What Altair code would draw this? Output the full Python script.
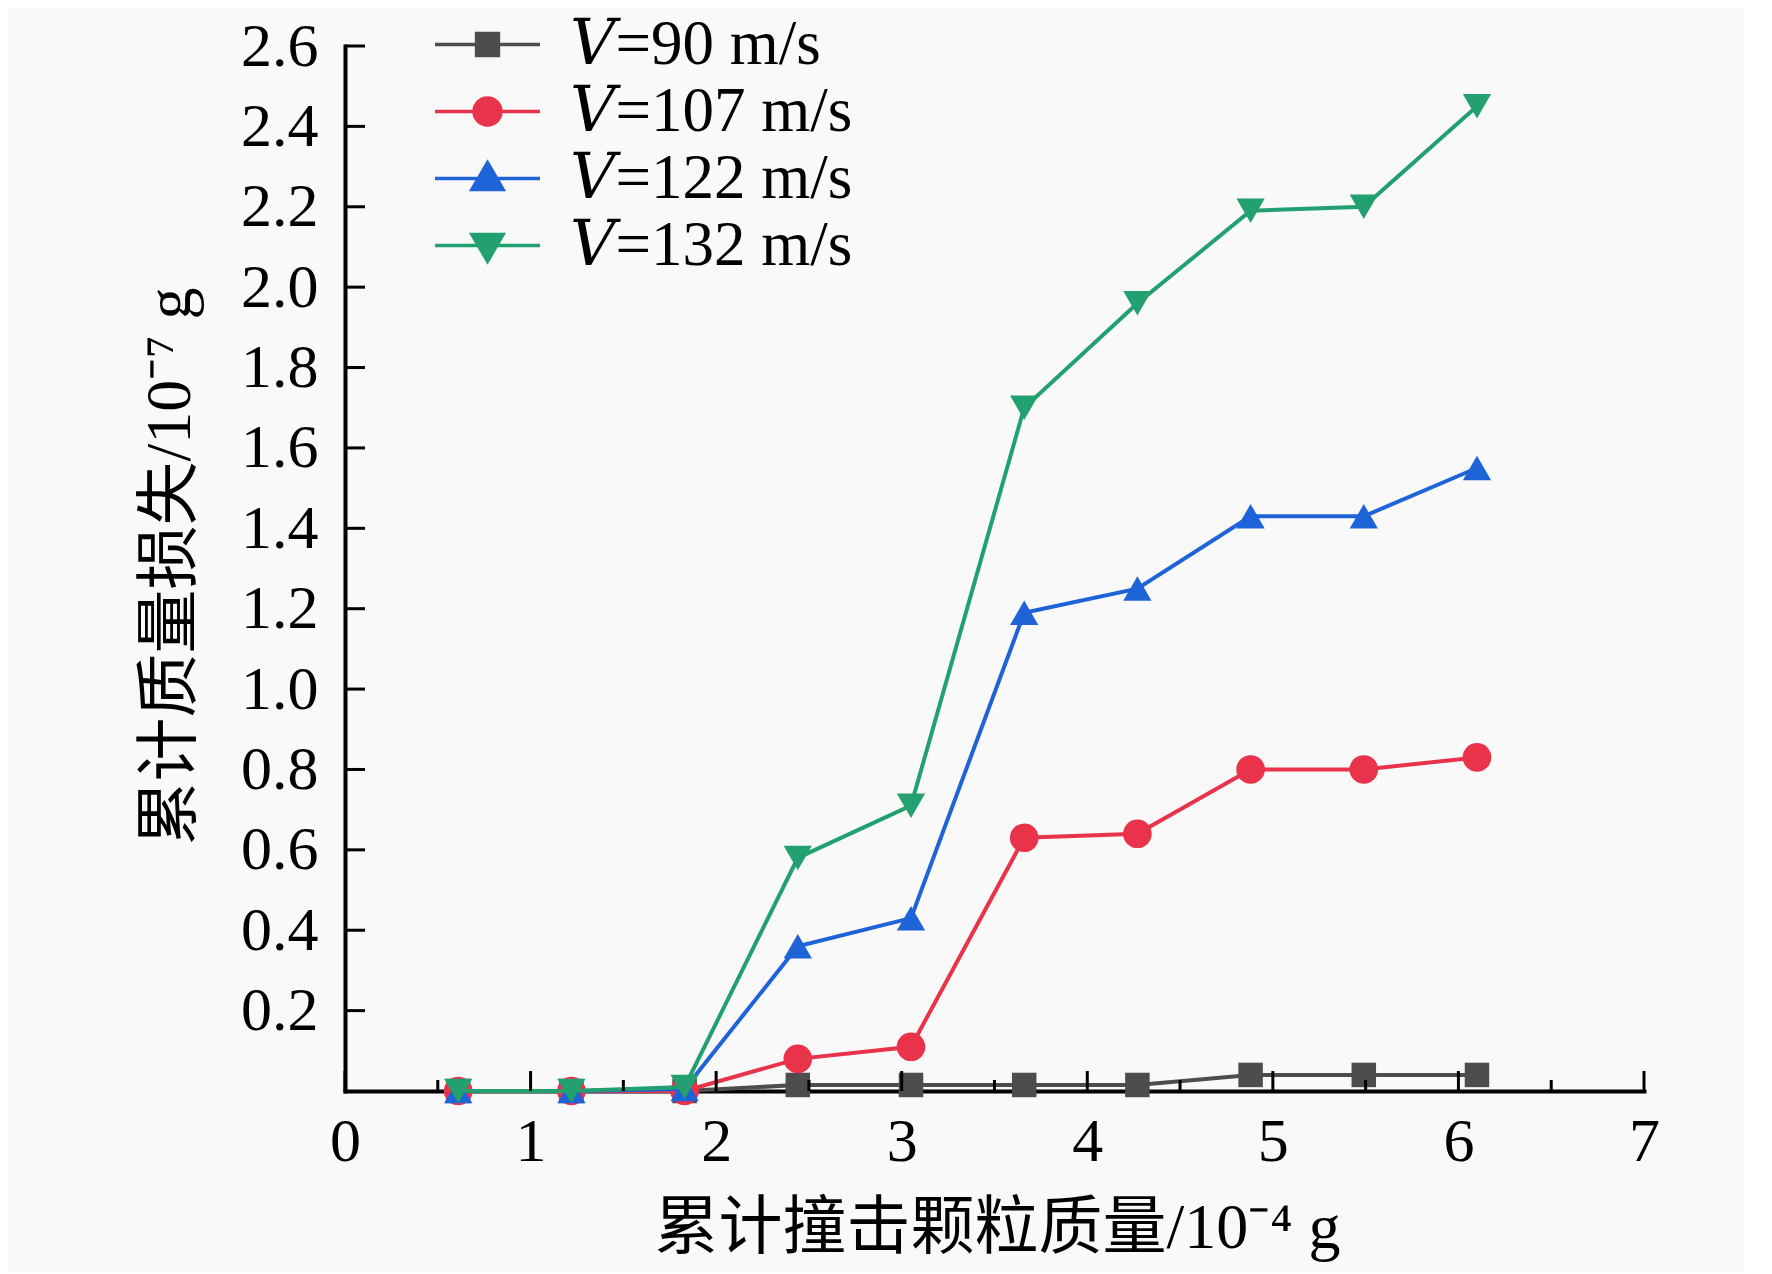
import altair as alt
import pandas as pd

# ---- data ----
x_mass = [0.61, 1.22, 1.83, 2.44, 3.05, 3.66, 4.27, 4.88, 5.49, 6.10]
loss_v90 = [0.0, 0.0, 0.0, 0.015, 0.015, 0.015, 0.015, 0.04, 0.04, 0.04]
loss_v107 = [0.0, 0.0, 0.0, 0.08, 0.11, 0.63, 0.64, 0.80, 0.80, 0.83]
loss_v122 = [0.0, 0.0, 0.005, 0.36, 0.43, 1.19, 1.25, 1.43, 1.43, 1.55]
loss_v132 = [0.0, 0.0, 0.01, 0.58, 0.71, 1.70, 1.96, 2.19, 2.20, 2.45]

series_labels = ["𝑉=90 m/s", "𝑉=107 m/s", "𝑉=122 m/s", "𝑉=132 m/s"]
series_colors = ["#4d4d4d", "#e8334a", "#1e64d8", "#22a06f"]
series_shapes = ["square", "circle", "triangle-up", "triangle-down"]
series_sizes = [600, 820, 800, 800]
legend_paths = [
    "M-2.5,0L2.5,0M-0.52,-0.52L0.52,-0.52L0.52,0.52L-0.52,0.52Z",
    "M-2.5,0L2.5,0M-0.64,0A0.64,0.64 0 1,0 0.64,0A0.64,0.64 0 1,0 -0.64,0Z",
    "M-2.5,0L2.5,0M0,-0.75L0.74,0.52L-0.74,0.52Z",
    "M-2.5,0L2.5,0M0,0.75L0.74,-0.52L-0.74,-0.52Z",
]

x_major = [0, 1, 2, 3, 4, 5, 6, 7]
x_minor = [0.5, 1.5, 2.5, 3.5, 4.5, 5.5, 6.5]
y_ticks = [0.2, 0.4, 0.6, 0.8, 1.0, 1.2, 1.4, 1.6, 1.8, 2.0, 2.2, 2.4, 2.6]

x_title = "累计撞击颗粒质量/10⁻⁴ g"
y_title = "累计质量损失/10⁻⁷ g"

# ---- tables ----
rows = []
for lab, vals in zip(series_labels, [loss_v90, loss_v107, loss_v122, loss_v132]):
    for xv, yv in zip(x_mass, vals):
        rows.append({"series": lab, "x": xv, "y": yv})
df = pd.DataFrame(rows)

W, H = 1299, 1045
FONT = "Liberation Serif, DejaVu Serif, Noto Sans CJK SC"
CJK = "Liberation Serif, Noto Sans CJK SC"

xscale = alt.Scale(domain=[0, 7], nice=False, zero=False)
yscale = alt.Scale(domain=[0, 2.6], nice=False, zero=False)

x_axis = alt.Axis(
    values=x_major, format="d", ticks=False, grid=False,
    domainWidth=4, domainColor="black", domainCap="square",
    labelFont=FONT, labelFontSize=62, labelColor="black",
    labelPadding=20, labelBaseline="top", labelFlush=False, labelOverlap=False,
    title=x_title, titleFont=CJK, titleFontSize=64, titleFontWeight="normal",
    titleColor="black", titleX=652, titleY=156, titleBaseline="alphabetic",
    titleAlign="center",
)
y_axis = alt.Axis(
    values=y_ticks, format=".1f", ticks=False, grid=False,
    domainWidth=4, domainColor="black", domainCap="square",
    labelFont=FONT, labelFontSize=62, labelColor="black",
    labelPadding=27, labelFlush=False, labelOverlap=False,
    title=y_title, titleFont=CJK, titleFontSize=64, titleFontWeight="normal",
    titleColor="black", titleAngle=270, titleX=-156, titleY=520,
    titleBaseline="alphabetic", titleAlign="center",
)

layers = []
for lab, col, shp, sz in zip(series_labels, series_colors, series_shapes, series_sizes):
    sub = alt.Chart(df).transform_filter(alt.datum.series == lab)
    line = sub.mark_line(color=col, strokeWidth=4).encode(
        x=alt.X("x:Q", scale=xscale, axis=x_axis),
        y=alt.Y("y:Q", scale=yscale, axis=y_axis),
    )
    pts = sub.mark_point(shape=shp, filled=True, size=sz, color=col, opacity=1).encode(
        x=alt.X("x:Q", scale=xscale, axis=x_axis),
        y=alt.Y("y:Q", scale=yscale, axis=y_axis),
    )
    layers += [line, pts]

# inward tick marks
tick_major = alt.Chart(pd.DataFrame({"x": x_major})).mark_rule(color="black", strokeWidth=3).encode(
    x=alt.X("x:Q", scale=xscale, axis=x_axis), y=alt.value(H), y2=alt.value(H - 20)
)
tick_minor = alt.Chart(pd.DataFrame({"x": x_minor})).mark_rule(color="black", strokeWidth=3).encode(
    x=alt.X("x:Q", scale=xscale, axis=x_axis), y=alt.value(H), y2=alt.value(H - 11)
)
tick_y = alt.Chart(pd.DataFrame({"y": y_ticks})).mark_rule(color="black", strokeWidth=3).encode(
    y=alt.Y("y:Q", scale=yscale, axis=y_axis), x=alt.value(0), x2=alt.value(20)
)

leg = alt.Legend(
    title=None, orient="none", legendX=111, legendY=-33, padding=0,
    labelFont=FONT, labelFontSize=63, labelColor="black", labelOffset=51,
    labelLimit=0, rowPadding=3, symbolSize=1764, symbolStrokeWidth=3.5, symbolOpacity=1,
)
legend_layer = alt.Chart(pd.DataFrame({"series": series_labels})).transform_filter("false").mark_point(
    filled=True
).encode(
    shape=alt.Shape("series:N", scale=alt.Scale(domain=series_labels, range=legend_paths), legend=leg),
    fill=alt.Fill("series:N", scale=alt.Scale(domain=series_labels, range=series_colors), legend=leg),
    stroke=alt.Stroke("series:N", scale=alt.Scale(domain=series_labels, range=series_colors), legend=leg),
)

chart = alt.layer(*layers, tick_major, tick_minor, tick_y, legend_layer).properties(
    width=W, height=H,
    autosize=alt.AutoSizeParams(type="none"),
    padding={"left": 337, "top": 38, "right": 100, "bottom": 180},
    background="#f9f9f9",
).configure_view(stroke=None)

chart.save("out.html", embed_options={"renderer": "svg", "actions": False})
